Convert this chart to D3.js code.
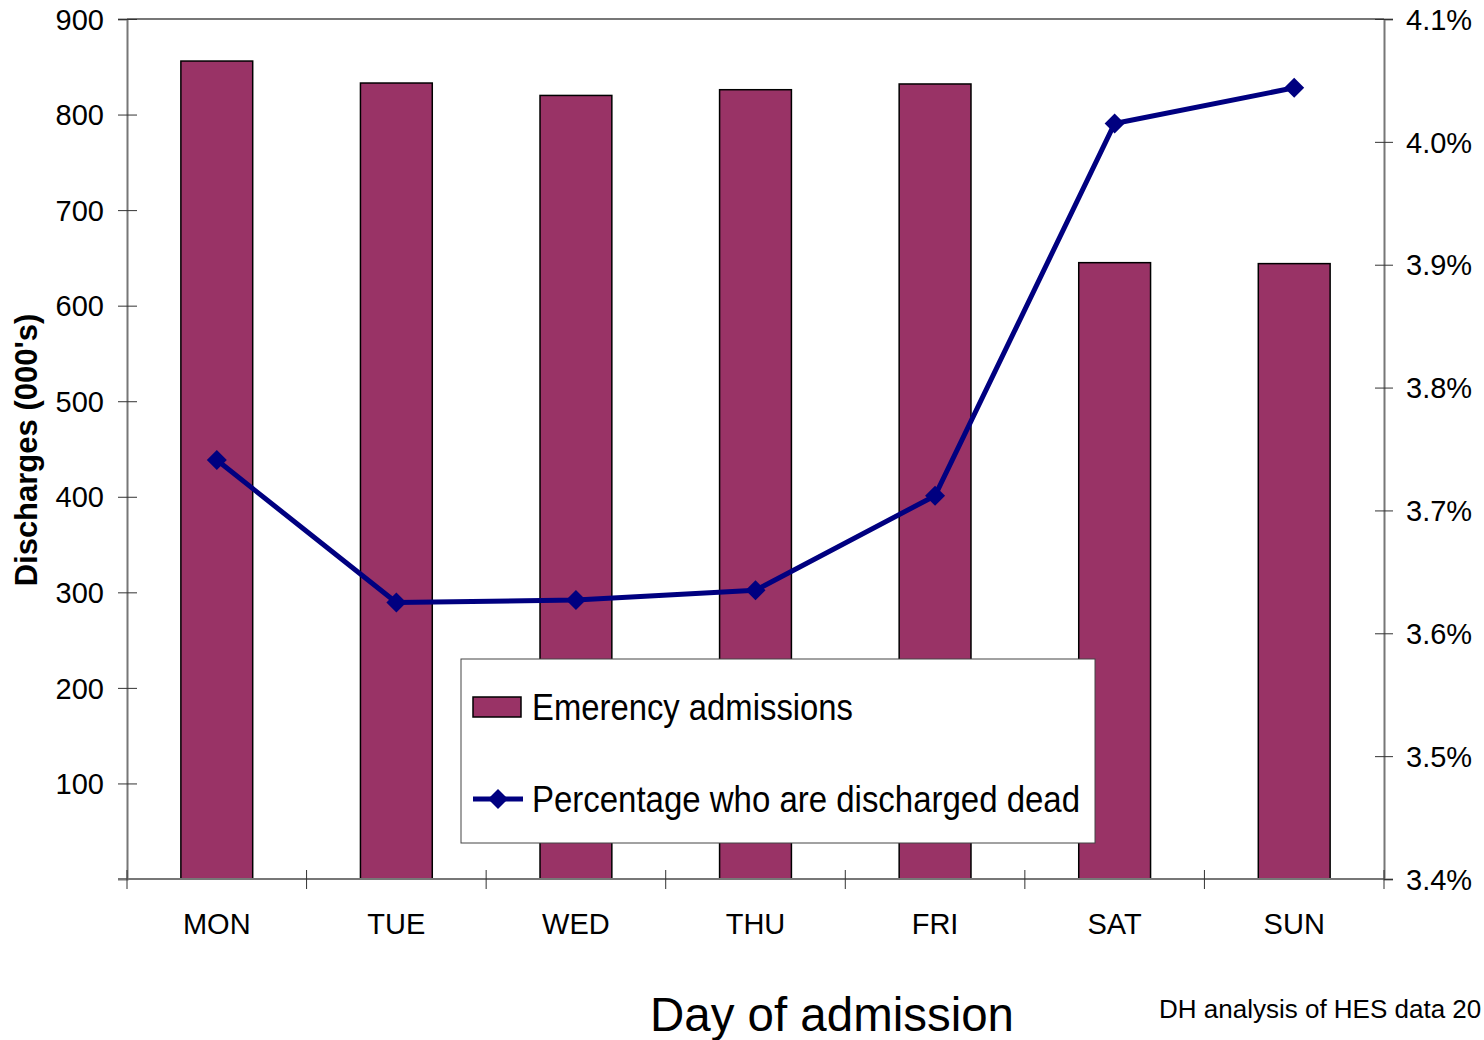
<!DOCTYPE html>
<html>
<head>
<meta charset="utf-8">
<script src="https://cdn.jsdelivr.net/npm/d3@7"></script>
<style>
  html, body { margin: 0; padding: 0; background: #fff; }
  svg { display: block; font-family: "Liberation Sans", Arial, sans-serif; }
</style>
</head>
<body>
<svg id="chart" width="1484" height="1040"></svg>
<script>
// Emergency admissions (000's) and in-hospital death rate by day of admission
const days = ["MON", "TUE", "WED", "THU", "FRI", "SAT", "SUN"];
const admissions = [856, 833, 820, 826, 832, 645, 644];
const pctDead = [3.741, 3.625, 3.627, 3.635, 3.712, 4.015, 4.044];
const leftTicks = [100, 200, 300, 400, 500, 600, 700, 800, 900];
const rightTicks = [3.4, 3.5, 3.6, 3.7, 3.8, 3.9, 4.0, 4.1];

const barColor = "#993366";
const lineColor = "#000080";
const axisColor = "#777";

const svg = d3.select("#chart");
const plot = { left: 127, right: 1384, top: 19, bottom: 879 };

const x = d3.scaleBand()
  .domain(days)
  .range([plot.left, plot.right])
  .paddingInner(0.6)
  .paddingOuter(0.3);
const step = x.step();

const yL = d3.scaleLinear().domain([0, 900]).range([plot.bottom, plot.top]);
const yR = d3.scaleLinear().domain([3.4, 4.1]).range([plot.bottom, plot.top]);

// Plot frame: top edge line
svg.append("line")
  .attr("x1", plot.left).attr("x2", plot.right)
  .attr("y1", plot.top).attr("y2", plot.top)
  .attr("stroke", axisColor).attr("stroke-width", 2);

// Bars
svg.append("g").selectAll("rect")
  .data(days)
  .join("rect")
  .attr("x", (d) => x(d))
  .attr("width", x.bandwidth())
  .attr("y", (d, i) => yL(admissions[i]))
  .attr("height", (d, i) => yL(0) - yL(admissions[i]))
  .attr("fill", barColor)
  .attr("stroke", "#000")
  .attr("stroke-width", 1.5);

// Left axis
const gL = svg.append("g").attr("transform", `translate(${plot.left},0)`)
  .call(d3.axisLeft(yL).tickValues([0, ...leftTicks]).tickSize(9).tickPadding(14)
    .tickFormat((d) => d === 0 ? "" : d));
gL.select(".domain").attr("stroke", axisColor).attr("stroke-width", 2);
gL.selectAll(".tick line").attr("stroke", "#333").attr("x2", 10).attr("x1", -9);
gL.selectAll(".tick text").attr("font-size", 29).attr("fill", "#000")
  .attr("font-family", "Liberation Sans, Arial, sans-serif").attr("dy", "0.35em");

// Right axis
const gR = svg.append("g").attr("transform", `translate(${plot.right},0)`)
  .call(d3.axisRight(yR).tickValues(rightTicks).tickSize(9).tickPadding(13)
    .tickFormat((d) => d3.format(".1f")(d) + "%"));
gR.select(".domain").attr("stroke", axisColor).attr("stroke-width", 2);
gR.selectAll(".tick line").attr("stroke", "#333").attr("x1", -9).attr("x2", 9);
gR.selectAll(".tick text").attr("font-size", 29).attr("fill", "#000")
  .attr("font-family", "Liberation Sans, Arial, sans-serif").attr("dy", "0.35em");

// Bottom axis: ticks sit on category boundaries, labels at centres
const gB = svg.append("g").attr("transform", `translate(0,${plot.bottom})`);
gB.append("line")
  .attr("x1", plot.left - 9).attr("x2", plot.right)
  .attr("stroke", axisColor).attr("stroke-width", 2);
const boundaries = d3.range(days.length + 1).map((i) => plot.left + i * step);
gB.selectAll("line.tick")
  .data(boundaries)
  .join("line")
  .attr("class", "tick")
  .attr("x1", (d) => d).attr("x2", (d) => d)
  .attr("y1", -9).attr("y2", 10)
  .attr("stroke", "#333").attr("stroke-width", 1);
gB.selectAll("text")
  .data(days)
  .join("text")
  .attr("x", (d) => x(d) + x.bandwidth() / 2)
  .attr("y", 55)
  .attr("text-anchor", "middle")
  .attr("font-size", 29)
  .text((d) => d);

// Death-rate line with diamond markers
const line = d3.line()
  .x((d, i) => x(days[i]) + x.bandwidth() / 2)
  .y((d) => yR(d));
svg.append("path")
  .datum(pctDead)
  .attr("d", line)
  .attr("fill", "none")
  .attr("stroke", lineColor)
  .attr("stroke-width", 5)
  .attr("stroke-linejoin", "round");

const diamond = "M0,-10L10,0L0,10L-10,0Z";
svg.append("g").selectAll("path")
  .data(pctDead)
  .join("path")
  .attr("d", diamond)
  .attr("transform", (d, i) => `translate(${x(days[i]) + x.bandwidth() / 2},${yR(d)})`)
  .attr("fill", lineColor);

// Legend
const lg = svg.append("g").attr("transform", "translate(461,659)");
lg.append("rect")
  .attr("width", 634).attr("height", 184)
  .attr("fill", "#fff").attr("stroke", "#444").attr("stroke-width", 1);
lg.append("rect")
  .attr("x", 12).attr("y", 38).attr("width", 48).attr("height", 20)
  .attr("fill", barColor).attr("stroke", "#000").attr("stroke-width", 1.5);
lg.append("text")
  .attr("x", 71).attr("y", 61)
  .attr("font-size", 36)
  .attr("textLength", 321).attr("lengthAdjust", "spacingAndGlyphs")
  .text("Emerency admissions");
lg.append("line")
  .attr("x1", 12).attr("x2", 62).attr("y1", 140).attr("y2", 140)
  .attr("stroke", lineColor).attr("stroke-width", 5);
lg.append("path")
  .attr("d", diamond)
  .attr("transform", "translate(37,140)")
  .attr("fill", lineColor);
lg.append("text")
  .attr("x", 71).attr("y", 153)
  .attr("font-size", 36)
  .attr("textLength", 548).attr("lengthAdjust", "spacingAndGlyphs")
  .text("Percentage who are discharged dead");

// Axis titles and source note
svg.append("text")
  .attr("transform", "translate(37,450) rotate(-90)")
  .attr("text-anchor", "middle")
  .attr("font-size", 31)
  .attr("font-weight", "bold")
  .text("Discharges (000's)");

svg.append("text")
  .attr("x", 832).attr("y", 1031)
  .attr("text-anchor", "middle")
  .attr("font-size", 48)
  .attr("textLength", 364).attr("lengthAdjust", "spacingAndGlyphs")
  .text("Day of admission");

svg.append("text")
  .attr("x", 1159).attr("y", 1018)
  .attr("font-size", 26)
  .text("DH analysis of HES data 20");
</script>
</body>
</html>
